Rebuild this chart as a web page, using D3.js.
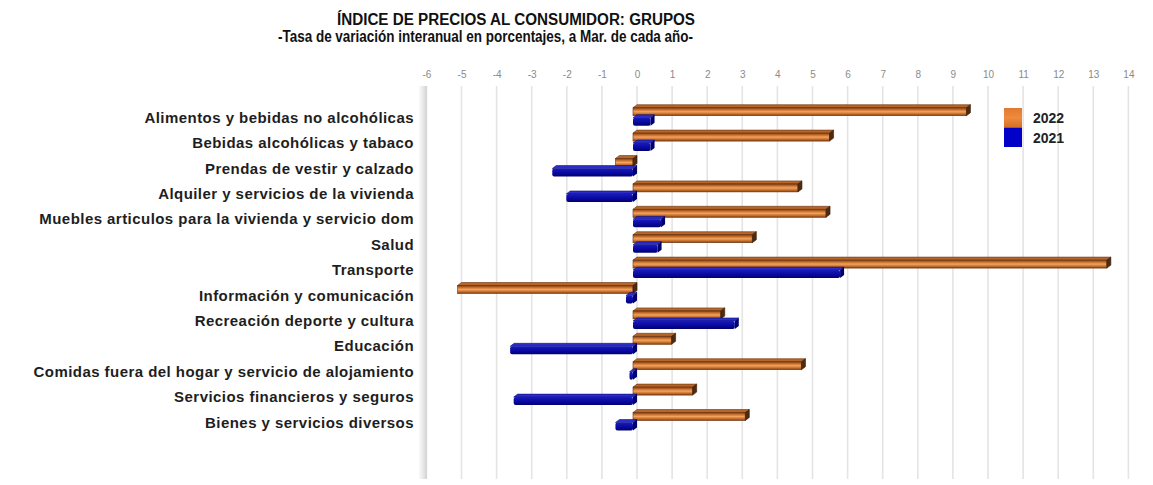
<!DOCTYPE html>
<html>
<head>
<meta charset="utf-8">
<script src="https://cdn.jsdelivr.net/npm/d3@7"></script>
<style>
  html, body { margin: 0; padding: 0; background: #fff; }
  svg { display: block; font-family: "Liberation Sans", Arial, sans-serif; }
</style>
</head>
<body>
<svg id="chart" width="1153" height="485"></svg>
<script>
// IPC por grupos: variación interanual (%) a marzo
const categories = [
  "Alimentos y bebidas no alcohólicas",
  "Bebidas alcohólicas y tabaco",
  "Prendas de vestir y calzado",
  "Alquiler y servicios de la vivienda",
  "Muebles articulos para la vivienda y servicio dom",
  "Salud",
  "Transporte",
  "Información y comunicación",
  "Recreación deporte y cultura",
  "Educación",
  "Comidas fuera del hogar y servicio de alojamiento",
  "Servicios financieros y seguros",
  "Bienes y servicios diversos"
];
const values2022 = [9.5, 5.6, -0.5, 4.7, 5.5, 3.4, 13.5, -5.0, 2.5, 1.1, 4.8, 1.7, 3.2];
const values2021 = [0.5, 0.5, -2.3, -1.9, 0.8, 0.7, 5.9, -0.2, 2.9, -3.5, -0.1, -3.4, -0.5];
const seriesNames = ["2022", "2021"];
const xTicks = d3.range(-6, 15, 1);

const svg = d3.select("#chart");
const defs = svg.append("defs");

// depth offset of the pseudo-3D walls and bars
const DX = 4, DY = 3;

const x = d3.scaleLinear().domain([-6, 14]).range([422.4, 1124.4]);
const y = d3.scaleBand().domain(categories).range([103, 103 + 13 * 25.4]);

// gradients
const og = defs.append("linearGradient").attr("id", "orangeFront")
  .attr("x1", 0).attr("y1", 0).attr("x2", 0).attr("y2", 1);
[[0, "#7a3a10"], [0.22, "#c06a28"], [0.5, "#f3a35e"], [0.78, "#c46c2a"], [1, "#7e3e12"]]
  .forEach(([o, c]) => og.append("stop").attr("offset", o).attr("stop-color", c));
const bg = defs.append("linearGradient").attr("id", "blueFront")
  .attr("x1", 0).attr("y1", 0).attr("x2", 0).attr("y2", 1);
[[0, "#1a1ab8"], [0.5, "#0a0aa6"], [1, "#00006e"]]
  .forEach(([o, c]) => bg.append("stop").attr("offset", o).attr("stop-color", c));
const wg = defs.append("linearGradient").attr("id", "wall")
  .attr("x1", 0).attr("y1", 0).attr("x2", 1).attr("y2", 0);
[[0, "#fafafa"], [0.6, "#e4e4e4"], [1, "#d2d2d2"]]
  .forEach(([o, c]) => wg.append("stop").attr("offset", o).attr("stop-color", c));
const lg = defs.append("linearGradient").attr("id", "legOrange")
  .attr("x1", 0).attr("y1", 0).attr("x2", 0).attr("y2", 1);
[[0, "#e07a30"], [0.5, "#f08a3c"], [1, "#d27028"]]
  .forEach(([o, c]) => lg.append("stop").attr("offset", o).attr("stop-color", c));

// titles
svg.append("text").attr("x", 337).attr("y", 25)
  .attr("textLength", 358).attr("lengthAdjust", "spacingAndGlyphs")
  .style("font-size", "16px").style("font-weight", "bold").attr("fill", "#111")
  .text("ÍNDICE DE PRECIOS AL CONSUMIDOR: GRUPOS");
svg.append("text").attr("x", 278).attr("y", 42)
  .attr("textLength", 415).attr("lengthAdjust", "spacingAndGlyphs")
  .style("font-size", "16px").style("font-weight", "bold").attr("fill", "#111")
  .text("-Tasa de variación interanual en porcentajes, a Mar. de cada año-");

// back gridlines and top tick labels
const plotTop = 86, plotBottom = 479;
const grid = svg.append("g");
grid.selectAll("line").data(xTicks).join("line")
  .attr("x1", d => x(d) + DX).attr("x2", d => x(d) + DX)
  .attr("y1", plotTop).attr("y2", plotBottom)
  .attr("stroke", "#e4e4e4").attr("stroke-width", 1.6);

const axis = d3.axisTop(x.copy().range(x.range().map(v => v + DX)))
  .tickValues(xTicks).tickSize(0).tickPadding(0).tickFormat(d => String(d));
const ax = svg.append("g").attr("transform", "translate(0,78)").call(axis);
ax.select(".domain").remove();
ax.selectAll("text").attr("fill", "#8a8a8a").style("font-size", "10px")
  .style("font-family", "'Liberation Sans', Arial, sans-serif");

// left side wall
svg.append("rect").attr("x", 419).attr("y", plotTop).attr("width", 8)
  .attr("height", plotBottom - plotTop).attr("fill", "url(#wall)");

// category labels
svg.append("g").selectAll("text").data(categories).join("text")
  .attr("x", 414).attr("y", d => y(d) + y.bandwidth() / 2 + 7)
  .attr("text-anchor", "end")
  .style("font-size", "15px").style("font-weight", "bold").style("letter-spacing", "0.45px")
  .attr("fill", "#1e1e1e")
  .text(d => d);

// bars
const barH = 8;
function faces(v, y0) {
  const xa = x(Math.min(0, v)), xb = x(Math.max(0, v));
  return {
    xa, xb, y0,
    topFace: `M${xa},${y0}L${xa + DX},${y0 - DY}L${xb + DX},${y0 - DY}L${xb},${y0}Z`,
    sideFace: `M${xb},${y0}L${xb + DX},${y0 - DY}L${xb + DX},${y0 - DY + barH}L${xb},${y0 + barH}Z`
  };
}

const rows = categories.map((c, i) => ({ c, v22: values2022[i], v21: values2021[i] }));
const barsG = svg.append("g");

rows.forEach(r => {
  const cy = y(r.c) + y.bandwidth() / 2;
  // 2022: orange tube-like bar
  const o = faces(r.v22, cy - 8);
  const go = barsG.append("g");
  go.append("path").attr("d", o.topFace).attr("fill", "#b8652a").attr("stroke", "#6a3410").attr("stroke-width", 0.6);
  go.append("rect").attr("x", o.xa).attr("y", o.y0).attr("width", o.xb - o.xa).attr("height", barH)
    .attr("fill", "url(#orangeFront)").attr("stroke", "#6a3410").attr("stroke-width", 0.6);
  go.append("path").attr("d", o.sideFace).attr("fill", "#4e2a0e").attr("stroke", "#3a1e08").attr("stroke-width", 0.6);

  // 2021: blue bar
  const b = faces(r.v21, cy + 2);
  const gb = barsG.append("g");
  gb.append("path").attr("d", b.topFace).attr("fill", "#2c2cc8").attr("stroke", "#000060").attr("stroke-width", 0.5);
  gb.append("rect").attr("x", b.xa).attr("y", b.y0).attr("width", b.xb - b.xa).attr("height", barH)
    .attr("rx", 2).attr("fill", "url(#blueFront)");
  gb.append("path").attr("d", b.sideFace).attr("fill", "#000070");
});

// legend
const legend = svg.append("g").attr("transform", "translate(1004,108)");
const legColors = ["url(#legOrange)", "#0000c8"];
legend.selectAll("rect").data(seriesNames).join("rect")
  .attr("x", 0).attr("y", (d, i) => i * 19.5).attr("width", 18).attr("height", 19.5)
  .attr("fill", (d, i) => legColors[i]);
legend.selectAll("text").data(seriesNames).join("text")
  .attr("x", 29).attr("y", (d, i) => i * 19.5 + 15)
  .style("font-size", "14px").style("font-weight", "bold").attr("fill", "#222")
  .text(d => d);
</script>
</body>
</html>
